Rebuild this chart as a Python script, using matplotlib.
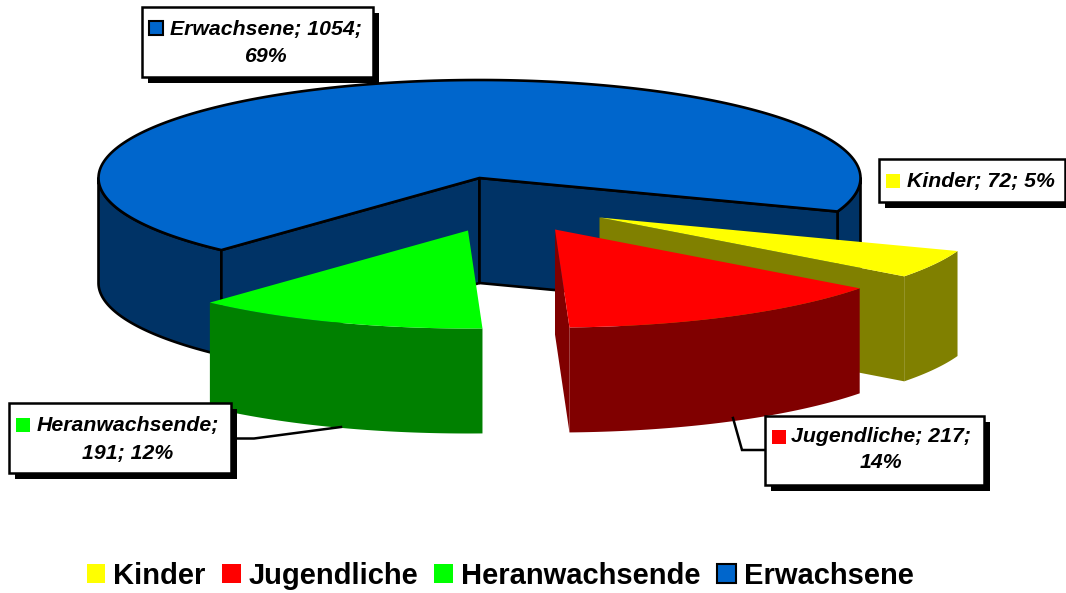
import numpy as np
import matplotlib
matplotlib.use("Agg")
import matplotlib.pyplot as plt
from matplotlib.patches import Polygon, Rectangle, Patch

categories = ["Kinder", "Jugendliche", "Heranwachsende", "Erwachsene"]
values = [72, 217, 191, 1054]
top_colors = ["#FFFF00", "#FF0000", "#00FF00", "#0066CC"]
side_colors = ["#808000", "#800000", "#008000", "#003366"]

plt.rcParams["font.family"] = ["Liberation Sans", "DejaVu Sans"]
W, H = 1066, 593
fig = plt.figure(figsize=(W / 100, H / 100), dpi=100)
ax = fig.add_axes([0, 0, 1, 1])
ax.set_xlim(0, W)
ax.set_ylim(H, 0)
ax.axis("off")

RX, RY, DEPTH = 381, 98, 105
START = 20.0
total = sum(values)
spans = [v / total * 360 for v in values]
edges = START + np.concatenate([[0], np.cumsum(spans)])
centers = [(599.5, 217.5), (555, 229.5), (468, 230.5), (479.5, 178)]


def arc(c, t0, t1, dz=0):
    t = np.radians(np.linspace(t0, t1, 200))
    return np.column_stack([c[0] + RX * np.cos(t), c[1] + dz + RY * np.sin(t)])


def wall(c, t0, t1, color, **kw):
    pts = np.vstack([arc(c, t0, t1), arc(c, t1, t0, DEPTH)])
    ax.add_patch(Polygon(pts, closed=True, fc=color, **kw))


def radial(c, t, color, **kw):
    e = arc(c, t, t)[0]
    pts = [c, e, (e[0], e[1] + DEPTH), (c[0], c[1] + DEPTH)]
    ax.add_patch(Polygon(pts, closed=True, fc=color, **kw))


def top(c, t0, t1, color, **kw):
    pts = np.vstack([[c], arc(c, t0, t1)])
    ax.add_patch(Polygon(pts, closed=True, fc=color, **kw))


# main (adult) slice, outlined
line = dict(ec="black", lw=1.9, joinstyle="round")
c = centers[3]
t0, t1 = edges[3], edges[4]
wall(c, t0, 180, side_colors[3], **line)
wall(c, 0, t1 - 360, side_colors[3], **line)
radial(c, t0, side_colors[3], **line)
radial(c, t1, side_colors[3], **line)
top(c, t0, t1, top_colors[3], **line)

# leader lines
ax.plot([232, 254, 341], [438.5, 438.5, 427], color="black", lw=1.8, solid_joinstyle="miter")
ax.plot([733, 742, 766], [418, 450, 450], color="black", lw=1.8, solid_joinstyle="miter")

# exploded slices
flat = dict(ec="none", lw=0)
c = centers[0]
radial(c, edges[1], side_colors[0], **flat)
wall(c, edges[0], edges[1], side_colors[0], **flat)
top(c, edges[0], edges[1], top_colors[0], **flat)

c = centers[1]
radial(c, edges[2], side_colors[1], **flat)
wall(c, edges[1], edges[2], side_colors[1], **flat)
top(c, edges[1], edges[2], top_colors[1], **flat)

c = centers[2]
wall(c, edges[2], edges[3], side_colors[2], **flat)
top(c, edges[2], edges[3], top_colors[2], **flat)


def label(i, box, swatch, cx, ys, split):
    x0, y0, x1, y1 = box
    ax.add_patch(Rectangle((x0 + 6, y0 + 6), x1 - x0, y1 - y0, fc="black", ec="black", lw=0, zorder=5))
    ax.add_patch(Rectangle((x0, y0), x1 - x0, y1 - y0, fc="white", ec="black", lw=1.8, zorder=6))
    ec = "black" if i == 3 else "none"
    ax.add_patch(Rectangle((swatch[0], swatch[1]), 14, 14, fc=top_colors[i], ec=ec, lw=1.5 if i == 3 else 0, zorder=7))
    pct = round(values[i] / total * 100)
    parts = [f"{categories[i]};", f"{values[i]};", f"{pct}%"]
    lines = [" ".join(parts[:split]), " ".join(parts[split:])] if split < 3 else [" ".join(parts)]
    for s, y in zip(lines, ys):
        ax.text(cx, y, s, ha="center", va="center", fontsize=15.3, fontweight="bold",
                fontstyle="italic", color="black", zorder=8)


label(3, (142, 7, 373, 77), (149, 21), 265.5, (29, 56), 2)
label(2, (9, 403, 231, 473), (16, 418), 128, (425, 453), 1)
label(0, (879, 159, 1065, 202), (886, 174), 980.5, (181,), 3)
label(1, (765, 416, 984, 485), (772, 430), 881, (436, 462), 2)

handles = [Patch(fc=top_colors[i], ec="black" if i == 3 else "none", lw=1.5 if i == 3 else 0,
                 label=categories[i]) for i in range(4)]
leg = ax.legend(handles=handles, ncol=4, frameon=False, loc="center",
                bbox_to_anchor=(500, 575.5), bbox_transform=ax.transData,
                prop=dict(size=21, weight="bold"), handlelength=0.65, handleheight=0.65,
                handletextpad=0.27, columnspacing=0.55, borderpad=0, borderaxespad=0)

fig.savefig("out.png", dpi=100, facecolor="white")
